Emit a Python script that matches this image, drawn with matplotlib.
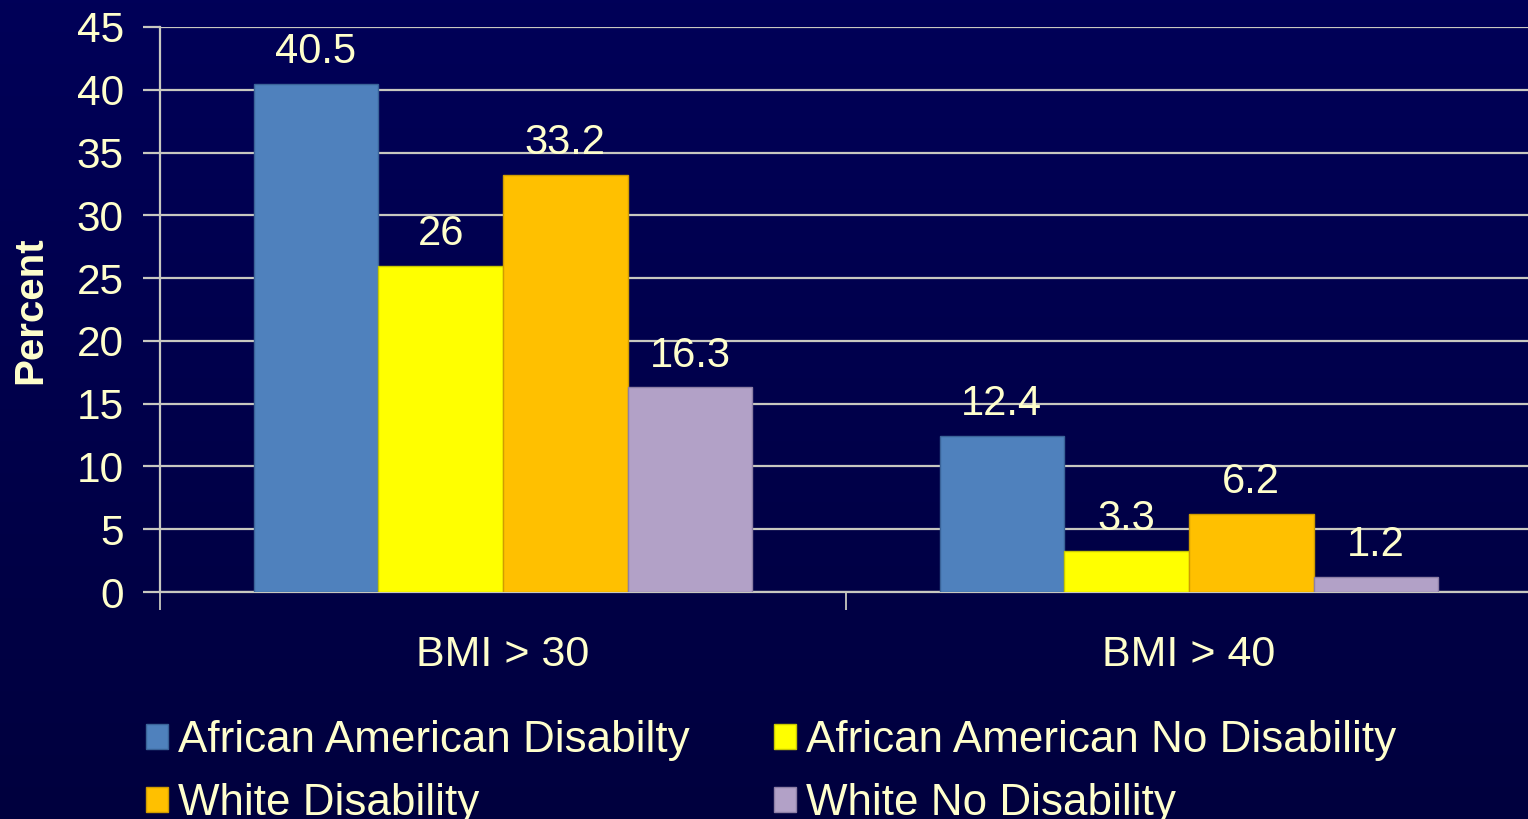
import numpy as np
import matplotlib
matplotlib.use("Agg")
import matplotlib.pyplot as plt
from matplotlib.patches import Patch

categories = ["BMI > 30", "BMI > 40"]
series_names = [
    "African American Disabilty",
    "African American No Disability",
    "White Disability",
    "White No Disability",
]
aa_disability = [40.5, 12.4]
aa_no_disability = [26, 3.3]
white_disability = [33.2, 6.2]
white_no_disability = [16.3, 1.2]
yticks = [0, 5, 10, 15, 20, 25, 30, 35, 40, 45]

series_values = [aa_disability, aa_no_disability, white_disability, white_no_disability]
colors = ["#4F81BD", "#FFFF00", "#FFC000", "#B2A1C7"]
edges = ["#3A6398", "#C8C800", "#D09C00", "#8E7FA6"]
text_color = "#FFFFCC"
grid_color = "#C8C8C0"

plt.rcParams["font.family"] = ["Liberation Sans", "DejaVu Sans"]

W, H, DPI = 1528, 819, 100
fig = plt.figure(figsize=(W / DPI, H / DPI), dpi=DPI)

# dark navy background with a gentle vertical gradient
bg = fig.add_axes([0, 0, 1, 1], zorder=-10)
grad = np.linspace(0, 1, 256).reshape(-1, 1)
top = np.array([0x00, 0x00, 0x58]) / 255
bot = np.array([0x00, 0x00, 0x3E]) / 255
img = top + (bot - top) * grad[:, :, None]
bg.imshow(img, aspect="auto", extent=[0, 1, 0, 1], origin="upper")
bg.set_axis_off()

# plot area in pixel coordinates
left, right, top_px, bottom_px = 160, 1532, 27, 592
ax = fig.add_axes([left / W, 1 - bottom_px / H, (right - left) / W, (bottom_px - top_px) / H])
ax.set_facecolor("none")

n = len(series_values)
width = 1 / (n + 1.5)
x = np.arange(len(categories))
for i, (vals, c, ec) in enumerate(zip(series_values, colors, edges)):
    offs = (i - (n - 1) / 2) * width
    bars = ax.bar(x + offs, vals, width, color=c, edgecolor=ec, linewidth=1.0,
                  label=series_names[i], zorder=3)
    for b, v in zip(bars, vals):
        ax.annotate(f"{v:g}", (b.get_x() + b.get_width() / 2, v),
                    xytext=(0, 15), textcoords="offset points",
                    ha="center", va="baseline", fontsize=30, color=text_color)

ax.set_xlim(-0.5, 1.5)
ax.set_ylim(0, 45)
ax.set_yticks(yticks)
ax.set_yticklabels([str(t) for t in yticks])
ax.yaxis.grid(True, color=grid_color, linewidth=1.6, zorder=0)
ax.set_axisbelow(True)

# category ticks sit at the boundaries between groups
ax.set_xticks([-0.5, 0.5, 1.5])
ax.set_xticklabels([])
ax.tick_params(axis="x", length=13, width=1.3, color=grid_color, direction="out")
for xi, name in zip(x, categories):
    ax.text(xi, -0.112, name, transform=ax.get_xaxis_transform(), ha="center",
            va="center", fontsize=31, color=text_color)

ax.tick_params(axis="y", length=12, width=1.6, color=grid_color, labelsize=30.5,
               labelcolor=text_color, pad=14)
for s in ["top", "right"]:
    ax.spines[s].set_visible(False)
ax.spines["left"].set_color(grid_color)
ax.spines["left"].set_linewidth(1.6)
ax.spines["bottom"].set_color(grid_color)
ax.spines["bottom"].set_linewidth(1.6)

fig.text(30 / W, 1 - 310 / H, "Percent", rotation=90, ha="center", va="center",
         fontsize=29, fontweight="bold", color=text_color)

# legend reads row by row: fill columns in the order matplotlib expects
order = [0, 2, 1, 3]
handles = [Patch(facecolor=colors[i], edgecolor=edges[i], linewidth=1.0) for i in order]
labels = [series_names[i] for i in order]
leg = fig.legend(handles, labels, ncol=2, loc="upper left",
                 bbox_to_anchor=(137 / W, 1 - 711 / H), frameon=False,
                 fontsize=31.7, labelcolor=text_color, handlelength=0.5,
                 handleheight=0.5, handletextpad=0.24, columnspacing=1.9,
                 labelspacing=0.5, borderpad=0.2, borderaxespad=0)

fig.savefig("out.png", dpi=DPI, facecolor="#00004A")
